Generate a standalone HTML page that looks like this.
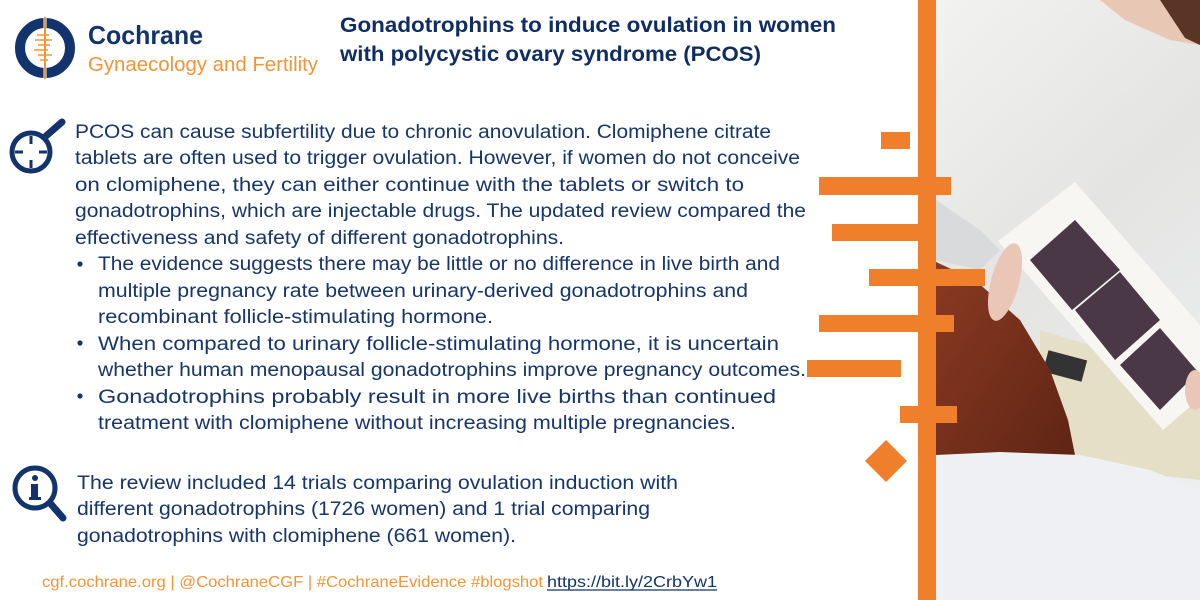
<!DOCTYPE html>
<html><head><meta charset="utf-8"><style>
html,body{margin:0;padding:0;background:#fff;}
body{width:1200px;height:600px;overflow:hidden;position:relative;font-family:"Liberation Sans",sans-serif;}
svg{position:absolute;left:0;top:0;}
.b{fill:#16356a;font-size:19px;}
</style></head><body>
<svg width="1200" height="600" viewBox="0 0 1200 600">
<defs>
<linearGradient id="bg" x1="0" y1="0" x2="0.4" y2="1"><stop offset="0" stop-color="#f2f2f0"/><stop offset="0.5" stop-color="#e4e4e2"/><stop offset="1" stop-color="#eceef0"/></linearGradient>
<linearGradient id="hair" x1="0" y1="0" x2="1" y2="1"><stop offset="0" stop-color="#8a3a22"/><stop offset="1" stop-color="#5e2414"/></linearGradient>
</defs>
<!-- photo -->
<g>
<rect x="936" y="0" width="264" height="600" fill="url(#bg)"/>
<polygon points="1100,0 1200,0 1200,45 1170,40 1125,20" fill="#e8c8b4"/>
<polygon points="1160,0 1200,0 1200,45 1185,38" fill="#5a3526"/>
<polygon points="936,200 980,230 1000,250 980,270 936,260" fill="#d8dadc"/>
<polygon points="1040,330 1140,360 1200,400 1200,480 1110,470 1040,440" fill="#e6dfc8"/>
<rect x="1045" y="355" width="40" height="22" fill="#333" transform="rotate(15 1065 366)"/>
<polygon points="936,262 975,280 1020,320 1050,370 1068,420 1075,455 1030,462 936,470" fill="url(#hair)"/>
<polygon points="936,455 1000,452 1080,455 1150,470 1200,490 1200,600 936,600" fill="#eef0f4"/>
<polygon points="998,241 1075,182 1200,325 1200,398 1163,430" fill="#f7f6f2"/>
<polygon points="1030,260 1075,220 1120,270 1072,310" fill="#4b3846"/>
<polygon points="1075,310 1120,272 1160,320 1115,360" fill="#4b3846"/>
<polygon points="1120,365 1160,328 1198,372 1160,410" fill="#4b3846"/>
<ellipse cx="1005" cy="282" rx="14" ry="40" fill="#e9c6b6" transform="rotate(15 1005 282)"/>
<ellipse cx="1195" cy="390" rx="10" ry="20" fill="#e9c6b6"/>
</g>
<!-- orange decorations -->
<g fill="#f07f2b">
<rect x="918" y="0" width="18" height="600"/>
<rect x="881" y="132" width="29" height="17"/>
<rect x="819" y="177" width="132" height="18"/>
<rect x="832" y="224" width="86" height="17"/>
<rect x="869" y="269" width="116" height="17"/>
<rect x="819" y="315" width="135" height="17"/>
<rect x="807" y="360" width="94" height="17"/>
<rect x="900" y="406" width="57" height="17"/>
<polygon points="886,440 907,461 886,482 865,461"/>
</g>
<!-- logo -->
<g>
<circle cx="45" cy="48" r="25" fill="none" stroke="#12336b" stroke-width="10"/>
<rect x="43.5" y="15" width="3" height="66" fill="#fff"/>
<rect x="44" y="17" width="2" height="62" fill="#f39536"/>
<g stroke="#f39536" stroke-width="1.5"><line x1="37" y1="35" x2="49" y2="35"/><line x1="35" y1="40" x2="52" y2="40"/><line x1="38" y1="45" x2="50" y2="45"/><line x1="34" y1="50" x2="48" y2="50"/><line x1="38" y1="55" x2="52" y2="55"/><line x1="40" y1="60" x2="48" y2="60"/></g>
<text x="88" y="44" font-size="26" font-weight="bold" fill="#12336b" textLength="115" lengthAdjust="spacingAndGlyphs">Cochrane</text>
<text x="88" y="71" font-size="20" fill="#f39536" textLength="230" lengthAdjust="spacingAndGlyphs">Gynaecology and Fertility</text>
</g>
<!-- title -->
<g fill="#0f2d63" font-size="21" font-weight="bold">
<text x="340" y="32" textLength="496" lengthAdjust="spacingAndGlyphs">Gonadotrophins to induce ovulation in women</text>
<text x="340" y="61" textLength="421" lengthAdjust="spacingAndGlyphs">with polycystic ovary syndrome (PCOS)</text>
</g>
<!-- target icon -->
<g stroke="#12336b" fill="none">
<line x1="46" y1="136" x2="62" y2="122" stroke-width="7" stroke-linecap="round"/>
<circle cx="31" cy="152" r="19" stroke-width="5"/>
<g stroke-width="3"><line x1="31" y1="136" x2="31" y2="144"/><line x1="31" y1="160" x2="31" y2="168"/><line x1="15" y1="152" x2="23" y2="152"/><line x1="39" y1="152" x2="47" y2="152"/></g>
</g>
<!-- paragraph -->
<g class="b">
<text class="b" x="75" y="138" textLength="696" lengthAdjust="spacingAndGlyphs">PCOS can cause subfertility due to chronic anovulation. Clomiphene citrate</text>
<text class="b" x="75" y="164" textLength="725" lengthAdjust="spacingAndGlyphs">tablets are often used to trigger ovulation. However, if women do not conceive</text>
<text class="b" x="75" y="191" textLength="669" lengthAdjust="spacingAndGlyphs">on clomiphene, they can either continue with the tablets or switch to</text>
<text class="b" x="75" y="217" textLength="731" lengthAdjust="spacingAndGlyphs">gonadotrophins, which are injectable drugs. The updated review compared the</text>
<text class="b" x="75" y="244" textLength="489" lengthAdjust="spacingAndGlyphs">effectiveness and safety of different gonadotrophins.</text>
</g>
<g>
<circle cx="80" cy="264" r="2.6" fill="#16356a"/>
<circle cx="80" cy="343" r="2.6" fill="#16356a"/>
<circle cx="80" cy="396" r="2.6" fill="#16356a"/>
<text class="b" x="98" y="270" textLength="682" lengthAdjust="spacingAndGlyphs">The evidence suggests there may be little or no difference in live birth and</text>
<text class="b" x="98" y="297" textLength="650" lengthAdjust="spacingAndGlyphs">multiple pregnancy rate between urinary-derived gonadotrophins and</text>
<text class="b" x="98" y="323" textLength="395" lengthAdjust="spacingAndGlyphs">recombinant follicle-stimulating hormone.</text>
<text class="b" x="98" y="350" textLength="681" lengthAdjust="spacingAndGlyphs">When compared to urinary follicle-stimulating hormone, it is uncertain</text>
<text class="b" x="98" y="376" textLength="708" lengthAdjust="spacingAndGlyphs">whether human menopausal gonadotrophins improve pregnancy outcomes.</text>
<text class="b" x="98" y="403" textLength="678" lengthAdjust="spacingAndGlyphs">Gonadotrophins probably result in more live births than continued</text>
<text class="b" x="98" y="429" textLength="638" lengthAdjust="spacingAndGlyphs">treatment with clomiphene without increasing multiple pregnancies.</text>
</g>
<!-- info icon -->
<g>
<line x1="50" y1="503" x2="63" y2="518" stroke="#12336b" stroke-width="7" stroke-linecap="round"/>
<circle cx="35" cy="488" r="20" fill="none" stroke="#12336b" stroke-width="5"/>
<circle cx="35" cy="478" r="3" fill="#12336b"/>
<rect x="31" y="484" width="7" height="14" fill="#12336b"/>
<rect x="29" y="497" width="12" height="3" fill="#12336b"/>
</g>
<g>
<text class="b" x="77" y="489" textLength="601" lengthAdjust="spacingAndGlyphs">The review included 14 trials comparing ovulation induction with</text>
<text class="b" x="77" y="515" textLength="573" lengthAdjust="spacingAndGlyphs">different gonadotrophins (1726 women) and 1 trial comparing</text>
<text class="b" x="77" y="542" textLength="439" lengthAdjust="spacingAndGlyphs">gonadotrophins with clomiphene (661 women).</text>
</g>
<!-- footer -->
<g font-size="16">
<text x="42" y="587" fill="#f39536" textLength="501" lengthAdjust="spacingAndGlyphs">cgf.cochrane.org | @CochraneCGF | #CochraneEvidence #blogshot</text>
<text x="547" y="587" fill="#12336b" textLength="170" lengthAdjust="spacingAndGlyphs">https://bit.ly/2CrbYw1</text>
<line x1="547" y1="590" x2="717" y2="590" stroke="#12336b" stroke-width="1.2"/>
</g>
</svg>
</body></html>
